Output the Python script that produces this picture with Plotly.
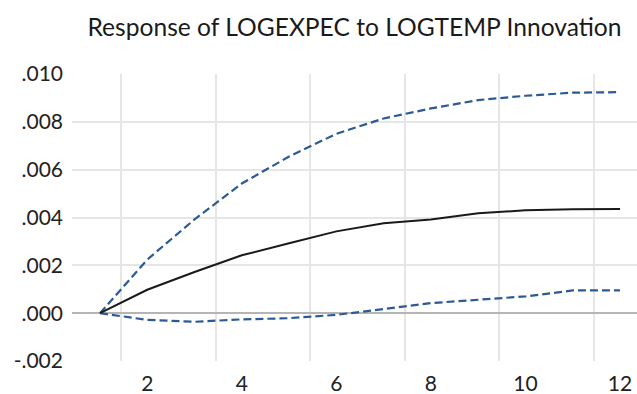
import plotly.graph_objects as go

# Impulse response of LOGEXPEC to a LOGTEMP shock, 12 periods
periods = list(range(1, 13))
response = [0.0, 0.00098, 0.00172, 0.00242, 0.00292, 0.00342,
            0.00376, 0.00392, 0.00418, 0.00430, 0.00435, 0.00436]
upper_band = [0.0, 0.00224, 0.00392, 0.00542, 0.00655, 0.00750,
              0.00814, 0.00856, 0.00891, 0.00909, 0.00922, 0.00924]
lower_band = [0.0, -0.00028, -0.00036, -0.00026, -0.00021, -0.00007,
              0.00017, 0.00042, 0.00056, 0.00070, 0.00095, 0.00095]

x_ticks = [2, 4, 6, 8, 10, 12]
y_ticks = [-0.002, 0.000, 0.002, 0.004, 0.006, 0.008, 0.010]
y_labels = ["-.002", ".000", ".002", ".004", ".006", ".008", ".010"]
title_text = "Response of LOGEXPEC to LOGTEMP Innovation"

BAND_COLOR = "#2b5a94"
FONT = "Lato"
HEIGHT = 394

fig = go.Figure()
fig.add_trace(go.Scatter(x=periods, y=upper_band, mode="lines",
                         line=dict(color=BAND_COLOR, width=2.2, dash="8px,4px")))
fig.add_trace(go.Scatter(x=periods, y=lower_band, mode="lines",
                         line=dict(color=BAND_COLOR, width=2.2, dash="8px,4px")))
fig.add_trace(go.Scatter(x=periods, y=response, mode="lines",
                         line=dict(color="#1a1a1a", width=2)))

fig.update_layout(
    width=637, height=HEIGHT,
    margin=dict(l=72, r=0, t=74, b=33),
    paper_bgcolor="white", plot_bgcolor="white",
    showlegend=False,
    font=dict(family=FONT, color="#222222"),
    title=dict(text=title_text, x=0.5, xref="paper", xanchor="center",
               y=1 - 27 / HEIGHT, yref="container", yanchor="middle",
               font=dict(family=FONT, size=24.6, color="#1a1a1a")),
)

fig.update_xaxes(
    range=[0.408, 12.36],
    tickmode="array", tickvals=x_ticks, ticktext=[str(v) for v in x_ticks],
    showgrid=False, zeroline=False, showline=False, ticks="",
    tickfont=dict(size=21), ticklabelstandoff=8,
    minor=dict(tick0=1.45, dtick=2, showgrid=True,
               gridcolor="#e6e6e6", gridwidth=1.5, ticks=""),
)

fig.update_yaxes(
    range=[-0.002, 0.010],
    tickmode="array", tickvals=y_ticks, ticktext=y_labels,
    showgrid=True, gridcolor="#e6e6e6", gridwidth=1.5,
    zeroline=True, zerolinecolor="#b5b5b5", zerolinewidth=1.5,
    showline=False, ticks="",
    tickfont=dict(size=21), ticklabelstandoff=8,
)

fig.write_html("out.html")
